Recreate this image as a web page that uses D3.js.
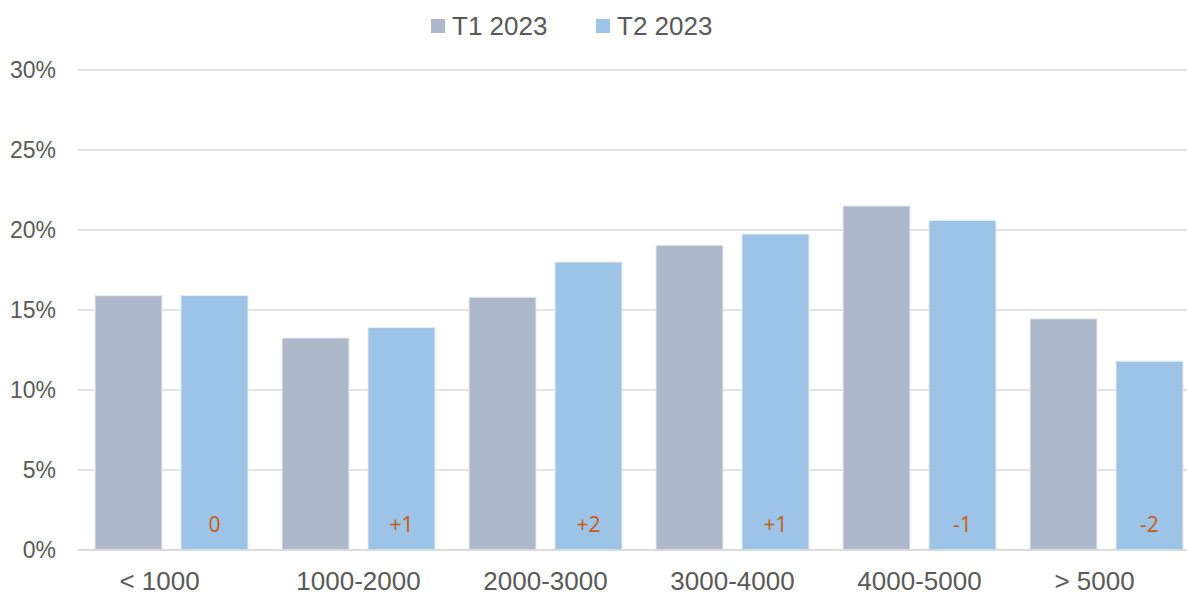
<!DOCTYPE html>
<html>
<head>
<meta charset="utf-8">
<script src="https://cdn.jsdelivr.net/npm/d3@7/dist/d3.min.js"></script>
<style>
body{margin:0;background:#fff;}
svg{display:block;font-family:"Liberation Sans",Arial,sans-serif;}
</style>
</head>
<body>
<svg id="chart" width="1187" height="595"></svg>
<script>
const categories = ["< 1000","1000-2000","2000-3000","3000-4000","4000-5000","> 5000"];
const seriesNames = ["T1 2023","T2 2023"];
const t1Values = [15.9, 13.25, 15.8, 19.05, 21.5, 14.45];
const t2Values = [15.9, 13.9, 18.0, 19.75, 20.6, 11.8];
const diffLabels = ["0","+1","+2","+1","-1","-2"];
const yTicks = [0,5,10,15,20,25,30];
const colors = ["#ADB9CA","#9DC3E6"];

const svg = d3.select("#chart");
const x0 = d3.scaleBand().domain(categories).range([78,1200]).paddingInner(0).paddingOuter(0);
const x1 = d3.scaleBand().domain(seriesNames).range([17,170]).paddingInner(19/86).paddingOuter(0);
const y = d3.scaleLinear().domain([0,30]).range([550,70]);

// gridlines
svg.append("g").selectAll("line").data(yTicks).join("line")
  .attr("x1",78).attr("x2",1187)
  .attr("y1",d=>y(d)).attr("y2",d=>y(d))
  .attr("stroke","#D9D9D9").attr("stroke-width",1.5);

// y labels
svg.append("g").selectAll("text").data(yTicks).join("text")
  .attr("x",56).attr("y",d=>y(d)+8)
  .attr("text-anchor","end").attr("fill","#595959")
  .attr("font-size",23).text(d=>d+"%");

const data = categories.map((c,i)=>({cat:c, vals:[t1Values[i],t2Values[i]], diff:diffLabels[i]}));

const groups = svg.append("g").selectAll("g").data(data).join("g")
  .attr("transform",d=>`translate(${x0(d.cat)},0)`);

groups.selectAll("rect").data(d=>d.vals.map((v,j)=>({name:seriesNames[j],v,j}))).join("rect")
  .attr("x",d=>x1(d.name)).attr("width",x1.bandwidth())
  .attr("y",d=>y(d.v)).attr("height",d=>y(0)-y(d.v))
  .attr("fill",d=>colors[d.j]).attr("stroke","#E6ECF3").attr("stroke-width",1);

// diff labels
groups.append("text")
  .attr("x",x1(seriesNames[1])+x1.bandwidth()/2)
  .attr("y",532)
  .attr("text-anchor","middle").attr("fill","#C55A11")
  .attr("font-family","'Open Sans',sans-serif").attr("font-size",21)
  .text(d=>d.diff);

// x axis baseline re-draw
svg.append("line").attr("x1",78).attr("x2",1187).attr("y1",y(0)).attr("y2",y(0))
  .attr("stroke","#D9D9D9").attr("stroke-width",1.5);

// category labels (first and last labels sit slightly left of centre in the original)
svg.append("g").selectAll("text").data(categories).join("text")
  .attr("x",d=>x0(d)+x0.bandwidth()/2)
  .attr("dx",d=>(d.startsWith("<")||d.startsWith(">")) ? -12 : 0)
  .attr("y",590)
  .attr("text-anchor","middle").attr("fill","#595959")
  .attr("font-size",26).text(d=>d);

// legend
const legendX = [431,596];
const lg = svg.append("g").selectAll("g").data(seriesNames).join("g")
  .attr("transform",(d,i)=>`translate(${legendX[i]},0)`);
lg.append("rect").attr("x",0).attr("y",19).attr("width",14).attr("height",14)
  .attr("fill",(d,i)=>colors[i]);
lg.append("text").attr("x",21).attr("y",35).attr("fill","#595959")
  .attr("font-size",26).text(d=>d);
</script>
</body>
</html>
